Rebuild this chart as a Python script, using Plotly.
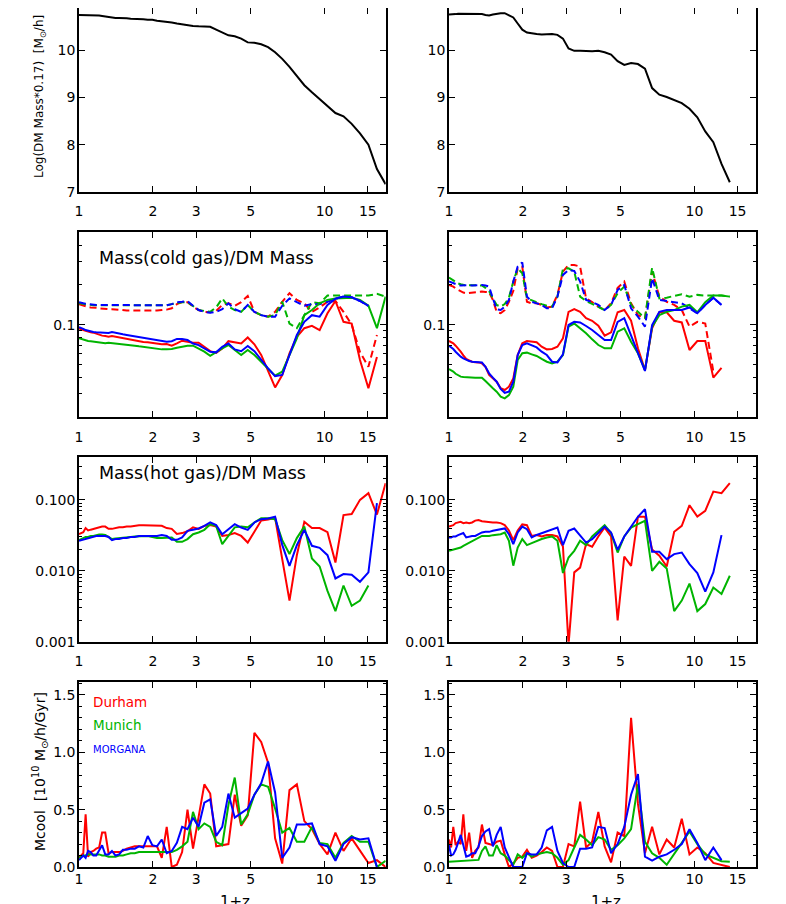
import plotly.graph_objects as go

# 1+z of the snapshots
ZP1 = [1.000, 1.020, 1.041, 1.064, 1.089, 1.116, 1.144, 1.175, 1.208, 1.242,
       1.279, 1.319, 1.362, 1.408, 1.457, 1.509, 1.564, 1.624, 1.687, 1.755,
       1.828, 1.905, 1.989, 2.078, 2.173, 2.276, 2.386, 2.504, 2.630, 2.766,
       2.913, 3.070, 3.239, 3.422, 3.619, 3.831, 4.060, 4.308, 4.576, 4.866,
       5.179, 5.520, 5.888, 6.289, 6.724, 7.197, 7.712, 8.272, 8.883, 9.550,
       10.278, 11.073, 11.944, 12.897, 13.941, 15.086, 16.343, 17.725]

XTICKS = [1, 2, 3, 5, 10, 15]

# --- log(DM mass * 0.17) ---
DM_L = [10.75, 10.75, 10.74, 10.74, 10.74, 10.74, 10.74, 10.74, 10.74, 10.73,
        10.72, 10.70, 10.70, 10.69, 10.69, 10.69, 10.68, 10.67, 10.67, 10.67,
        10.66, 10.65, 10.65, 10.63, 10.62, 10.61, 10.59, 10.57, 10.55, 10.53,
        10.52, 10.51, 10.51, 10.50, 10.44, 10.38, 10.32, 10.30, 10.25, 10.17,
        10.16, 10.13, 10.07, 9.96, 9.82, 9.65, 9.46, 9.26, 9.11, 8.97,
        8.81, 8.67, 8.60, 8.44, 8.24, 8.00, 7.48, 7.16]
DM_R = [10.76, 10.76, 10.77, 10.77, 10.78, 10.78, 10.78, 10.78, 10.78, 10.77,
        10.77, 10.77, 10.77, 10.75, 10.74, 10.76, 10.78, 10.79, 10.79, 10.74,
        10.70, 10.57, 10.44, 10.38, 10.36, 10.35, 10.34, 10.35, 10.35, 10.33,
        10.25, 10.04, 9.99, 9.99, 9.98, 9.98, 9.99, 9.96, 9.91, 9.77,
        9.69, 9.73, 9.71, 9.61, 9.20, 9.06, 9.01, 8.95, 8.88, 8.76,
        8.58, 8.28, 8.05, 7.59, 7.20]

# --- cold gas / DM (solid) and total / DM (dashed) ---
COLD_L_DUR = [0.0938, 0.093, 0.091, 0.090, 0.0885, 0.0875, 0.087, 0.0855, 0.0835, 0.0826,
              0.082, 0.081, 0.082, 0.081, 0.080, 0.079, 0.078, 0.077, 0.076, 0.075,
              0.074, 0.0735, 0.0726, 0.0718, 0.071, 0.0714, 0.0693, 0.0722, 0.0756, 0.0743,
              0.073, 0.073, 0.068, 0.063, 0.061, 0.066, 0.075, 0.0735, 0.072, 0.080,
              0.071, 0.059, 0.044, 0.0335, 0.0416, 0.0607, 0.081, 0.094, 0.098, 0.091,
              0.122, 0.151, 0.105, 0.102, 0.054, 0.033, 0.057]
COLD_L_MUN = [0.0788, 0.078, 0.0765, 0.0756, 0.0752, 0.0748, 0.0743, 0.0735, 0.0726, 0.0722,
              0.0722, 0.073, 0.0726, 0.0718, 0.071, 0.0706, 0.0701, 0.0697, 0.0693, 0.0685,
              0.0677, 0.0669, 0.0662, 0.0654, 0.065, 0.065, 0.0654, 0.0669, 0.0685, 0.0693,
              0.0693, 0.0662, 0.0624, 0.058, 0.0624, 0.0662, 0.0701, 0.0643, 0.0589, 0.0643,
              0.0589, 0.0524, 0.0461, 0.0411, 0.0441, 0.0589, 0.0788, 0.118, 0.129, 0.145,
              0.154, 0.158, 0.160, 0.160, 0.154, 0.139, 0.094, 0.163]
COLD_L_MOR = [0.0955, 0.0945, 0.093, 0.091, 0.090, 0.0885, 0.088, 0.0875, 0.087, 0.0865,
              0.086, 0.0865, 0.088, 0.0865, 0.0855, 0.0845, 0.0835, 0.0826, 0.0815, 0.081,
              0.0797, 0.0788, 0.078, 0.0765, 0.0756, 0.0743, 0.075, 0.078, 0.078, 0.0765,
              0.072, 0.070, 0.066, 0.0624, 0.0617, 0.068, 0.072, 0.065, 0.063, 0.069,
              0.063, 0.054, 0.0467, 0.0408, 0.0416, 0.0589, 0.0835, 0.105, 0.118, 0.115,
              0.141, 0.157, 0.163, 0.161, 0.151, 0.139]
TOT_L_DUR = [0.143, 0.141, 0.139, 0.138, 0.136, 0.135, 0.135, 0.134, 0.133, 0.132,
             0.131, 0.131, 0.131, 0.130, 0.129, 0.129, 0.128, 0.128, 0.128, 0.128,
             0.127, 0.127, 0.128, 0.128, 0.129, 0.130, 0.133, 0.143, 0.148, 0.148,
             0.137, 0.129, 0.125, 0.124, 0.127, 0.141, 0.145, 0.139, 0.148, 0.165,
             0.125, 0.118, 0.115, 0.125, 0.149, 0.173, 0.154, 0.145, 0.125, 0.135,
             0.149, 0.151, 0.125, 0.100, 0.062, 0.048, 0.0835]
TOT_L_MUN = [0.145, 0.144, 0.143, 0.142, 0.141, 0.141, 0.140, 0.140, 0.140, 0.140,
             0.140, 0.140, 0.140, 0.140, 0.140, 0.140, 0.140, 0.140, 0.140, 0.140,
             0.140, 0.140, 0.140, 0.140, 0.140, 0.140, 0.143, 0.145, 0.148, 0.148,
             0.139, 0.129, 0.127, 0.125, 0.135, 0.158, 0.137, 0.129, 0.125, 0.141,
             0.125, 0.118, 0.115, 0.118, 0.149, 0.102, 0.094, 0.118, 0.148, 0.145,
             0.166, 0.166, 0.166, 0.166, 0.166, 0.166, 0.171, 0.163]
TOT_L_MOR = [0.148, 0.146, 0.145, 0.144, 0.143, 0.142, 0.141, 0.141, 0.141, 0.141,
             0.141, 0.140, 0.140, 0.140, 0.140, 0.140, 0.140, 0.140, 0.140, 0.140,
             0.140, 0.140, 0.140, 0.140, 0.140, 0.140, 0.143, 0.148, 0.149, 0.151,
             0.139, 0.129, 0.125, 0.123, 0.125, 0.131, 0.145, 0.131, 0.125, 0.141,
             0.125, 0.118, 0.115, 0.115, 0.139, 0.158, 0.148, 0.139, 0.143, 0.143,
             0.149, 0.157, 0.163, 0.161, 0.151, 0.139]

COLD_R_DUR = [0.0752, 0.074, 0.0722, 0.0693, 0.0662, 0.0624, 0.0585, 0.055, 0.0537, 0.0524,
              0.052, 0.0518, 0.0509, 0.048, 0.0416, 0.0392, 0.037, 0.033, 0.032, 0.0339,
              0.0392, 0.0589, 0.0722, 0.0752, 0.0743, 0.0735, 0.0681, 0.065, 0.0654, 0.0681,
              0.0788, 0.125, 0.131, 0.125, 0.112, 0.107, 0.0983, 0.0826, 0.0875, 0.124,
              0.129, 0.107, 0.0662, 0.0453, 0.0938, 0.124, 0.124, 0.107, 0.104, 0.0643,
              0.0752, 0.0752, 0.0397, 0.047]
COLD_R_MUN = [0.0461, 0.0453, 0.0441, 0.0425, 0.0416, 0.0404, 0.0401, 0.0399, 0.0397, 0.0397,
              0.0397, 0.0397, 0.0397, 0.0374, 0.0349, 0.033, 0.0311, 0.0285, 0.0277, 0.0293,
              0.0339, 0.054, 0.0607, 0.0614, 0.0596, 0.0579, 0.055, 0.0524, 0.0509, 0.0524,
              0.0589, 0.0966, 0.102, 0.0938, 0.086, 0.0774, 0.0701, 0.0662, 0.0662, 0.0885,
              0.0938, 0.0743, 0.0607, 0.0453, 0.0966, 0.118, 0.125, 0.129, 0.137, 0.141,
              0.124, 0.148, 0.166, 0.166, 0.163]
COLD_R_MOR = [0.0693, 0.0677, 0.0654, 0.0624, 0.0596, 0.0573, 0.0556, 0.054, 0.053, 0.0524,
              0.052, 0.052, 0.0518, 0.048, 0.0428, 0.0397, 0.037, 0.0326, 0.0305, 0.0311,
              0.037, 0.0589, 0.0701, 0.0722, 0.0701, 0.0673, 0.0624, 0.0589, 0.0524, 0.0518,
              0.0596, 0.0994, 0.105, 0.104, 0.0977, 0.0911, 0.0835, 0.0765, 0.0765, 0.105,
              0.112, 0.0835, 0.0624, 0.0446, 0.0994, 0.125, 0.129, 0.129, 0.129, 0.135,
              0.122, 0.141, 0.160, 0.141]
TOT_R_DUR = [0.200, 0.198, 0.194, 0.188, 0.183, 0.178, 0.175, 0.173, 0.174, 0.176,
             0.177, 0.178, 0.178, 0.177, 0.176, 0.154, 0.125, 0.122, 0.129, 0.149,
             0.180, 0.267, 0.275, 0.149, 0.145, 0.145, 0.141, 0.135, 0.137, 0.168,
             0.252, 0.283, 0.283, 0.275, 0.158, 0.148, 0.137, 0.129, 0.145, 0.190,
             0.212, 0.145, 0.118, 0.112, 0.252, 0.163, 0.149, 0.141, 0.129, 0.0966,
             0.105, 0.102, 0.0441]
TOT_R_MUN = [0.227, 0.222, 0.216, 0.209, 0.205, 0.202, 0.200, 0.198, 0.199, 0.200,
             0.199, 0.198, 0.198, 0.190, 0.180, 0.158, 0.141, 0.137, 0.143, 0.160,
             0.212, 0.267, 0.245, 0.158, 0.154, 0.148, 0.143, 0.139, 0.137, 0.163,
             0.264, 0.267, 0.252, 0.163, 0.151, 0.143, 0.137, 0.129, 0.141, 0.173,
             0.194, 0.141, 0.125, 0.112, 0.270, 0.158, 0.160, 0.165, 0.170, 0.163,
             0.168, 0.166, 0.166, 0.166, 0.163]
TOT_R_MOR = [0.212, 0.209, 0.205, 0.202, 0.200, 0.198, 0.199, 0.200, 0.199, 0.198,
             0.199, 0.200, 0.200, 0.198, 0.194, 0.158, 0.131, 0.129, 0.137, 0.154,
             0.212, 0.275, 0.296, 0.163, 0.149, 0.145, 0.141, 0.133, 0.133, 0.163,
             0.238, 0.259, 0.255, 0.212, 0.154, 0.148, 0.141, 0.129, 0.141, 0.183,
             0.200, 0.133, 0.115, 0.0966, 0.224, 0.154, 0.151, 0.148, 0.145, 0.133,
             0.122, 0.141, 0.160, 0.141]

# --- hot gas / DM ---
HOT_L_DUR = [0.033, 0.034, 0.035, 0.040, 0.037, 0.038, 0.039, 0.040, 0.041, 0.042,
             0.042, 0.039, 0.039, 0.040, 0.041, 0.041, 0.042, 0.042, 0.043, 0.044,
             0.044, 0.044, 0.044, 0.043, 0.043, 0.040, 0.039, 0.033, 0.034, 0.036,
             0.041, 0.039, 0.043, 0.044, 0.042, 0.031, 0.032, 0.034, 0.031, 0.025,
             0.035, 0.051, 0.053, 0.056, 0.0146, 0.0038, 0.0166, 0.049, 0.040, 0.040,
             0.035, 0.0131, 0.061, 0.063, 0.100, 0.124, 0.062, 0.172]
HOT_L_MUN = [0.027, 0.028, 0.029, 0.030, 0.030, 0.031, 0.031, 0.032, 0.0325, 0.0325,
             0.032, 0.030, 0.028, 0.0285, 0.029, 0.029, 0.030, 0.030, 0.0305, 0.0305,
             0.031, 0.031, 0.030, 0.029, 0.029, 0.0295, 0.0295, 0.0256, 0.0256, 0.028,
             0.0328, 0.0347, 0.0378, 0.0454, 0.043, 0.0237, 0.031, 0.041, 0.042, 0.041,
             0.048, 0.0552, 0.0552, 0.0534, 0.027, 0.0172, 0.0289, 0.042, 0.0149, 0.0115,
             0.0052, 0.0027, 0.0062, 0.0032, 0.0038, 0.0062]
HOT_L_MOR = [0.0265, 0.027, 0.028, 0.028, 0.029, 0.030, 0.030, 0.031, 0.031, 0.031,
             0.031, 0.030, 0.027, 0.028, 0.028, 0.029, 0.029, 0.030, 0.030, 0.031,
             0.031, 0.031, 0.031, 0.031, 0.032, 0.031, 0.0273, 0.0273, 0.0295, 0.0366,
             0.0378, 0.0395, 0.043, 0.048, 0.044, 0.0328, 0.0386, 0.0454, 0.0407, 0.0378,
             0.048, 0.0534, 0.0546, 0.0577, 0.0232, 0.0117, 0.0229, 0.0378, 0.0225, 0.0211,
             0.0166, 0.0078, 0.0090, 0.0088, 0.0070, 0.0095, 0.090]
HOT_R_DUR = [0.042, 0.043, 0.044, 0.047, 0.048, 0.049, 0.047, 0.048, 0.047, 0.048,
             0.051, 0.052, 0.050, 0.049, 0.048, 0.048, 0.048, 0.047, 0.044, 0.037,
             0.027, 0.037, 0.045, 0.044, 0.031, 0.032, 0.0305, 0.032, 0.032, 0.0305,
             0.022, 0.0009, 0.0095, 0.0111, 0.0238, 0.0218, 0.0305, 0.0407, 0.0305, 0.0020,
             0.0159, 0.0117, 0.058, 0.058, 0.020, 0.0163, 0.0115, 0.0354, 0.043, 0.084,
             0.058, 0.070, 0.131, 0.124, 0.172]
HOT_R_MUN = [0.0191, 0.0195, 0.020, 0.020, 0.0206, 0.0213, 0.0225, 0.0237, 0.0245, 0.0265,
             0.028, 0.0295, 0.031, 0.031, 0.031, 0.0318, 0.0325, 0.0328, 0.0347, 0.0265,
             0.0118, 0.0213, 0.028, 0.023, 0.0245, 0.0265, 0.028, 0.0295, 0.0305, 0.0265,
             0.0093, 0.0154, 0.0191, 0.0265, 0.023, 0.0305, 0.0366, 0.044, 0.034, 0.0181,
             0.0305, 0.0407, 0.0454, 0.0506, 0.010, 0.0134, 0.0108, 0.0027, 0.0038, 0.0066,
             0.0027, 0.0034, 0.0058, 0.0047, 0.0085]
HOT_R_MOR = [0.0295, 0.0295, 0.0305, 0.0305, 0.0318, 0.0328, 0.034, 0.0295, 0.0305, 0.031,
             0.031, 0.0328, 0.0347, 0.0354, 0.0354, 0.0366, 0.0374, 0.0386, 0.0395, 0.0328,
             0.0237, 0.0347, 0.042, 0.0386, 0.0295, 0.032, 0.034, 0.0354, 0.0386, 0.0408,
             0.023, 0.0366, 0.0394, 0.0318, 0.025, 0.0279, 0.0347, 0.042, 0.0347, 0.0198,
             0.0305, 0.042, 0.0577, 0.074, 0.0185, 0.0185, 0.0146, 0.0172, 0.0181, 0.0124,
             0.0093, 0.0051, 0.0095, 0.0318]

# --- cooling rate [1e10 Msun/h/Gyr] ---
MCOOL_L_DUR = [0.08, 0.10, 0.12, 0.46, 0.09, 0.13, 0.14, 0.16, 0.17, 0.30,
               0.30, 0.12, 0.13, 0.13, 0.13, 0.14, 0.16, 0.17, 0.18, 0.18,
               0.18, 0.18, 0.18, 0.18, 0.08, 0.35, 0.0, 0.02, 0.13, 0.50,
               0.16, 0.45, 0.72, 0.64, 0.18, 0.19, 0.20, 0.63, 0.36, 0.45,
               1.17, 1.09, 0.91, 0.25, 0.03, 0.67, 0.72, 0.40, 0.33, 0.20,
               0.11, 0.30, 0.14, 0.25, 0.14, 0.035, 0.06, 0.0]
MCOOL_L_MUN = [0.08, 0.09, 0.10, 0.10, 0.11, 0.11, 0.11, 0.11, 0.11, 0.10,
               0.10, 0.09, 0.09, 0.09, 0.10, 0.10, 0.11, 0.12, 0.12, 0.13,
               0.13, 0.13, 0.13, 0.13, 0.13, 0.13, 0.13, 0.15, 0.18, 0.22,
               0.48, 0.33, 0.38, 0.35, 0.22, 0.19, 0.54, 0.78, 0.37, 0.46,
               0.63, 0.72, 0.70, 0.51, 0.30, 0.34, 0.22, 0.22, 0.35, 0.21,
               0.20, 0.08, 0.21, 0.27, 0.22, 0.22, 0.0, 0.055]
MCOOL_L_MOR = [0.06, 0.08, 0.10, 0.08, 0.14, 0.13, 0.10, 0.10, 0.14, 0.19,
               0.11, 0.11, 0.14, 0.10, 0.11, 0.15, 0.15, 0.16, 0.16, 0.18,
               0.17, 0.27, 0.19, 0.18, 0.24, 0.12, 0.14, 0.21, 0.35, 0.33,
               0.43, 0.35, 0.56, 0.59, 0.27, 0.35, 0.64, 0.43, 0.47, 0.51,
               0.63, 0.73, 0.92, 0.65, 0.08, 0.17, 0.37, 0.37, 0.38, 0.20,
               0.18, 0.055, 0.20, 0.26, 0.24, 0.25, 0.0]
MCOOL_R_DUR = [0.24, 0.17, 0.35, 0.19, 0.22, 0.20, 0.46, 0.14, 0.30, 0.08,
               0.14, 0.17, 0.37, 0.21, 0.20, 0.19, 0.22, 0.23, 0.11, 0.0,
               0.03, 0.08, 0.09, 0.15, 0.08, 0.10, 0.13, 0.17, 0.14, 0.0,
               0.0, 0.20, 0.18, 0.57, 0.17, 0.22, 0.48, 0.18, 0.04, 0.30,
               0.27, 1.30, 0.55, 0.12, 0.35, 0.11, 0.24, 0.17, 0.42, 0.11,
               0.17, 0.12, 0.035, 0.02, 0.0]
MCOOL_R_MUN = [0.045, 0.046, 0.047, 0.048, 0.049, 0.050, 0.051, 0.053, 0.055, 0.057,
               0.059, 0.062, 0.14, 0.18, 0.10, 0.10, 0.19, 0.12, 0.10, 0.06,
               0.02, 0.11, 0.08, 0.12, 0.09, 0.11, 0.12, 0.13, 0.12, 0.08,
               0.02, 0.06, 0.17, 0.28, 0.24, 0.19, 0.26, 0.24, 0.15, 0.19,
               0.25, 0.33, 0.72, 0.22, 0.12, 0.08, 0.02, 0.12, 0.21, 0.31,
               0.20, 0.11, 0.08, 0.05, 0.045]
MCOOL_R_MOR = [0.19, 0.10, 0.11, 0.15, 0.21, 0.28, 0.19, 0.09, 0.10, 0.12,
               0.12, 0.18, 0.27, 0.31, 0.33, 0.18, 0.28, 0.35, 0.17, 0.08,
               0.0, 0.0, 0.0, 0.12, 0.11, 0.11, 0.17, 0.32, 0.35, 0.14,
               0.035, 0.0, 0.0, 0.16, 0.16, 0.17, 0.35, 0.34, 0.12, 0.20,
               0.35, 0.63, 0.81, 0.09, 0.055, 0.09, 0.11, 0.15, 0.20, 0.33,
               0.21, 0.06, 0.17, 0.06]

RED, GREEN, BLUE = "#FF0000", "#00B400", "#0000FF"
FONT = "DejaVu Sans"

# the page body adds an 8px margin, so the figure is placed 8px in from the corner
OFF = 8
W, H = 770, 896
# panel boxes in window pixels: (left, right) and (top, bottom)
COLS = [(79, 385.7), (449, 755.5)]
ROWS = [(8, 191.7), (232.3, 417), (457.3, 641.7), (682.3, 867)]
XLABEL_STANDOFF = [6, 6, 6, -2]


def px(x):
    return (x - OFF) / W


def py(y):
    return min(1.0, 1 - (y - OFF) / H)


fig = go.Figure()


def add_line(n, y, color, dash="solid"):
    fig.add_trace(go.Scatter(
        x=ZP1[:len(y)], y=y, mode="lines",
        line=dict(color=color, width=2, dash=dash),
        xaxis="x%d" % n, yaxis="y%d" % n, showlegend=False, hoverinfo="skip",
    ))


DASH = "7px,4px"
# row 1
add_line(1, DM_L, "black")
add_line(2, DM_R, "black")
# row 2
for n, (sol, tot) in zip([3, 4], [
        ((COLD_L_DUR, COLD_L_MUN, COLD_L_MOR), (TOT_L_DUR, TOT_L_MUN, TOT_L_MOR)),
        ((COLD_R_DUR, COLD_R_MUN, COLD_R_MOR), (TOT_R_DUR, TOT_R_MUN, TOT_R_MOR))]):
    for y, c in zip(tot, (RED, GREEN, BLUE)):
        add_line(n, y, c, DASH)
    for y, c in zip(sol, (RED, GREEN, BLUE)):
        add_line(n, y, c)
# row 3
for n, ys in [(5, (HOT_L_DUR, HOT_L_MUN, HOT_L_MOR)), (6, (HOT_R_DUR, HOT_R_MUN, HOT_R_MOR))]:
    for y, c in zip(ys, (RED, GREEN, BLUE)):
        add_line(n, y, c)
# row 4
for n, ys in [(7, (MCOOL_L_DUR, MCOOL_L_MUN, MCOOL_L_MOR)),
              (8, (MCOOL_R_DUR, MCOOL_R_MUN, MCOOL_R_MOR))]:
    for y, c in zip(ys, (RED, GREEN, BLUE)):
        add_line(n, y, c)


def frame(**kw):
    d = dict(showline=True, linecolor="black", linewidth=1.5, mirror="ticks",
             ticks="inside", ticklen=6, tickwidth=1, tickcolor="black",
             showgrid=False, zeroline=False, fixedrange=True, automargin=False,
             tickfont=dict(family=FONT, size=14, color="black"))
    d.update(kw)
    return d


YSPEC = [
    dict(type="linear", range=[7, 10.9], tickvals=[7, 8, 9, 10]),
    dict(type="log", range=[-1.699, -0.301], dtick=1, tickformat=".1f",
         minor=dict(ticks="inside", ticklen=3, dtick="D1", tickcolor="black", showgrid=False)),
    dict(type="log", range=[-3, -0.4], dtick=1, tickformat=".3f",
         minor=dict(ticks="inside", ticklen=3, dtick="D1", tickcolor="black", showgrid=False)),
    dict(type="linear", range=[0, 1.61], dtick=0.5, tickformat=".1f",
         minor=dict(ticks="inside", ticklen=3, dtick=0.1, tickcolor="black", showgrid=False)),
]

layout = dict(width=W, height=H, margin=dict(l=0, r=0, t=0, b=0),
              paper_bgcolor="white", plot_bgcolor="white", showlegend=False)
for r, (top, bot) in enumerate(ROWS):
    for c, (left, right) in enumerate(COLS):
        n = r * 2 + c + 1
        layout["xaxis%d" % n] = frame(
            type="log", range=[0, 1.249], tickmode="array", tickvals=XTICKS,
            ticktext=[str(v) for v in XTICKS], ticklabelstandoff=XLABEL_STANDOFF[r],
            domain=[px(left), px(right)], anchor="y%d" % n)
        layout["yaxis%d" % n] = frame(
            domain=[py(bot), py(top)], anchor="x%d" % n,
            ticklabelstandoff=-1, **YSPEC[r])
fig.update_layout(**layout)


def note(x, y, text, size, color="black", xanchor="left", angle=0):
    fig.add_annotation(x=px(x), y=1 - (y - OFF) / H, xref="paper", yref="paper", text=text,
                       showarrow=False, xanchor=xanchor, yanchor="middle", textangle=angle,
                       font=dict(family=FONT, size=size, color=color))


note(40, 97, "Log(DM Mass*0.17)  [M<sub>⊙</sub>/h]", 12, xanchor="center", angle=-90)
note(40, 772, "Mcool  [10<sup>10</sup> M<sub>⊙</sub>/h/Gyr]", 14, xanchor="center", angle=-90)
note(97, 258, "Mass(cold gas)/DM Mass", 17.5)
note(97, 473, "Mass(hot gas)/DM Mass", 17.5)
note(91, 702, "Durham", 13.5, RED)
note(91, 725, "Munich", 13.5, GREEN)
note(91, 749, "MORGANA", 10, BLUE)
note(235, 902, "1+z", 15, xanchor="center")
note(606, 902, "1+z", 15, xanchor="center")

fig.write_html("out.html")
